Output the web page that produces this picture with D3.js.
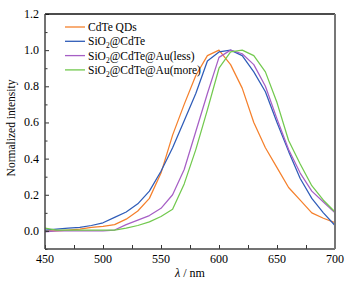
<!DOCTYPE html>
<html>
<head>
<meta charset="utf-8">
<script src="https://cdn.jsdelivr.net/npm/d3@7"></script>
<style>
  body { margin: 0; background: #fff; }
  svg { font-family: "Liberation Serif", "Times New Roman", "DejaVu Serif", serif; }
</style>
</head>
<body>
<svg id="chart" width="351" height="287"></svg>
<script>
// wavelength (nm)
let wavelengths = [450, 460, 470, 480, 490, 500, 510, 520, 530, 540, 550, 560, 570,
                   580, 590, 600, 610, 620, 630, 640, 650, 660, 670, 680, 690, 700];

let cdte = [0.00, 0.00, 0.005, 0.01, 0.02, 0.025, 0.035, 0.065, 0.11, 0.18, 0.32, 0.53, 0.70,
            0.86, 0.97, 1.0, 0.92, 0.79, 0.60, 0.46, 0.35, 0.24, 0.17, 0.10, 0.07, 0.045];
let sio2Cdte = [0.005, 0.01, 0.015, 0.02, 0.03, 0.045, 0.075, 0.105, 0.15, 0.22, 0.33, 0.46, 0.61,
                0.76, 0.94, 0.99, 1.0, 0.97, 0.88, 0.77, 0.60, 0.44, 0.29, 0.18, 0.10, 0.03];
let auLess = [-0.005, 0.0, 0.0, 0.0, 0.0, 0.0, 0.005, 0.035, 0.06, 0.085, 0.125, 0.20, 0.34,
              0.55, 0.76, 0.96, 1.0, 0.98, 0.92, 0.80, 0.62, 0.45, 0.32, 0.22, 0.16, 0.10];
let auMore = [0.015, 0.005, 0.005, 0.005, 0.005, 0.005, 0.005, 0.015, 0.03, 0.05, 0.08, 0.12, 0.26,
              0.45, 0.67, 0.90, 0.99, 1.0, 0.97, 0.88, 0.71, 0.50, 0.37, 0.25, 0.17, 0.105];

let seriesNames = ["CdTe QDs", "SiO2@CdTe", "SiO2@CdTe@Au(less)", "SiO2@CdTe@Au(more)"];
let seriesColors = ["#f5802c", "#2f5cb8", "#a65fc5", "#72c94e"];
let seriesValues = [cdte, sio2Cdte, auLess, auMore];

let xTicks = [450, 500, 550, 600, 650, 700];
let yTicks = [0.0, 0.2, 0.4, 0.6, 0.8, 1.0, 1.2];

let mLeft = 45, mRight = 335, mTop = 14, mBottom = 249;

let svg = d3.select("#chart");

let x = d3.scaleLinear().domain([450, 700]).range([mLeft, mRight]);
let y = d3.scaleLinear().domain([-0.1, 1.2]).range([mBottom, mTop]);

// curves
let line = d3.line()
    .x(function (d) { return x(d[0]); })
    .y(function (d) { return y(d[1]); });

svg.append("defs").append("clipPath").attr("id", "clip")
    .append("rect")
    .attr("x", mLeft).attr("y", mTop)
    .attr("width", mRight - mLeft).attr("height", mBottom - mTop);

seriesValues.forEach(function (vals, i) {
    svg.append("path")
        .datum(wavelengths.map(function (w, j) { return [w, vals[j]]; }))
        .attr("clip-path", "url(#clip)")
        .attr("fill", "none")
        .attr("stroke", seriesColors[i])
        .attr("stroke-width", 1.25)
        .attr("stroke-linejoin", "round")
        .attr("d", line);
});

// axes with inward ticks
let xAxis = svg.append("g")
    .attr("transform", "translate(0," + mBottom + ")")
    .call(d3.axisBottom(x).tickValues(d3.range(450, 701, 25)).tickSize(-4).tickFormat(""));
let yAxis = svg.append("g")
    .attr("transform", "translate(" + mLeft + ",0)")
    .call(d3.axisLeft(y).tickValues(d3.range(-0.1, 1.21, 0.1)).tickSize(-4).tickFormat(""));
[xAxis, yAxis].forEach(function (g) {
    g.select(".domain").remove();
    g.selectAll("line").attr("stroke", "#333");
});
yAxis.selectAll(".tick line")
    .attr("x2", function (d) { return Math.abs(Math.round(d * 10) % 2) === 0 ? 4 : 2.5; });

svg.selectAll(".xlab")
    .data(xTicks)
    .enter()
    .append("text")
    .attr("x", function (d) { return x(d); })
    .attr("y", mBottom + 14)
    .attr("text-anchor", "middle")
    .attr("font-size", 12)
    .text(function (d) { return d; });

svg.selectAll(".ylab")
    .data(yTicks)
    .enter()
    .append("text")
    .attr("x", mLeft - 6)
    .attr("y", function (d) { return y(d) + 4; })
    .attr("text-anchor", "end")
    .attr("font-size", 12)
    .text(function (d) { return d.toFixed(1); });

// frame
svg.append("line").attr("x1", mLeft).attr("x2", mRight).attr("y1", mTop).attr("y2", mTop)
    .attr("stroke", "#111").attr("stroke-width", 1.3);
svg.append("line").attr("x1", mLeft).attr("x2", mLeft).attr("y1", mTop).attr("y2", mBottom)
    .attr("stroke", "#444").attr("stroke-width", 1.5);
svg.append("line").attr("x1", mLeft).attr("x2", mRight).attr("y1", mBottom).attr("y2", mBottom)
    .attr("stroke", "#444").attr("stroke-width", 1.5);
svg.append("line").attr("x1", mRight).attr("x2", mRight).attr("y1", mTop).attr("y2", mBottom)
    .attr("stroke", "#777").attr("stroke-width", 2);

// axis titles
svg.append("text")
    .attr("transform", "translate(15,128) rotate(-90)")
    .attr("text-anchor", "middle")
    .attr("font-size", 11.5)
    .text("Normalized intensity");

let xt = svg.append("text")
    .attr("x", 190)
    .attr("y", 277)
    .attr("text-anchor", "middle")
    .attr("font-size", 12);
xt.append("tspan").attr("font-style", "italic").text("λ");
xt.append("tspan").text(" / nm");

// legend
let legend = svg.selectAll(".legend")
    .data(seriesNames)
    .enter()
    .append("g")
    .attr("transform", function (d, i) { return "translate(65," + (27 + i * 14.3) + ")"; });

legend.append("line")
    .attr("x1", 0).attr("x2", 20)
    .attr("stroke", function (d, i) { return seriesColors[i]; })
    .attr("stroke-width", 1.3);

legend.each(function (d) {
    let t = d3.select(this).append("text")
        .attr("x", 23).attr("y", 4)
        .attr("font-size", 11.5);
    let parts = d.split("SiO2");
    if (parts.length > 1) {
        t.append("tspan").text("SiO");
        t.append("tspan").attr("font-size", 7.5).attr("dy", 3).text("2");
        t.append("tspan").attr("dy", -3).text(parts[1]);
    } else {
        t.text(d);
    }
});
</script>
</body>
</html>
